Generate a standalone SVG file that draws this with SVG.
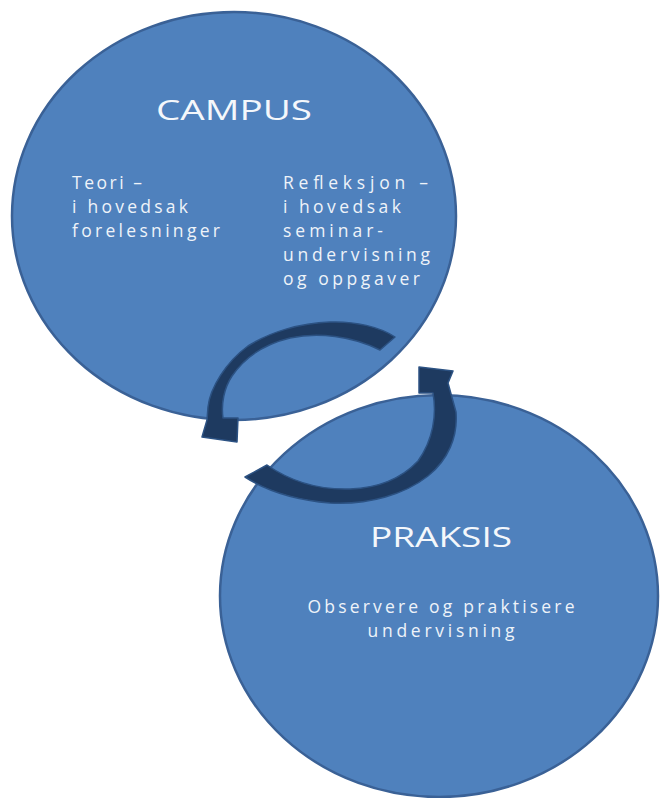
<svg xmlns="http://www.w3.org/2000/svg" width="660" height="798" viewBox="0 0 660 798">
<defs>
<style>
.node{fill:#4f81bd;stroke:#3a6196;stroke-width:2.5}
.arrow{fill:#1e3a60;stroke:#2c5283;stroke-width:1.5;stroke-linejoin:round}
.title{font-family:"Open Sans","Liberation Sans",sans-serif;font-size:27px;fill:#f4f7fb;text-anchor:middle}
.body{font-family:"Open Sans","Liberation Sans",sans-serif;font-size:17.5px;fill:#eef3f9}
.mid{text-anchor:middle}
</style>
</defs>
<rect width="660" height="798" fill="#ffffff"/>
<g id="campus">
<ellipse class="node" cx="234" cy="216" rx="222" ry="204"/>
<text class="title" x="234" y="120" textLength="156" lengthAdjust="spacingAndGlyphs">CAMPUS</text>
<text class="body" x="72" y="189" textLength="70" lengthAdjust="spacing">Teori –</text>
<text class="body" x="72" y="213" textLength="116" lengthAdjust="spacing">i hovedsak</text>
<text class="body" x="72" y="237" textLength="148" lengthAdjust="spacing">forelesninger</text>
<text class="body" x="283" y="189" textLength="145" lengthAdjust="spacing">Refleksjon –</text>
<text class="body" x="283" y="213" textLength="118" lengthAdjust="spacing">i hovedsak</text>
<text class="body" x="283" y="237" textLength="100" lengthAdjust="spacing">seminar-</text>
<text class="body" x="283" y="261" textLength="147" lengthAdjust="spacing">undervisning</text>
<text class="body" x="283" y="285" textLength="137" lengthAdjust="spacing">og oppgaver</text>
</g>
<g id="praksis">
<ellipse class="node" cx="439" cy="596" rx="219" ry="201"/>
<text class="title" x="441" y="547" textLength="142" lengthAdjust="spacingAndGlyphs">PRAKSIS</text>
<text class="body mid" x="441" y="613" textLength="267" lengthAdjust="spacing">Observere og praktisere</text>
<text class="body mid" x="441" y="637" textLength="147" lengthAdjust="spacing">undervisning</text>
</g>
<g id="connectors">
<path class="arrow" d="M395,337 C380,327 355,321 330,322 C300,323 270,332 248,346 C226,362 210,388 208,407 L207,420 L202,437 L237,442 L238,418 L223,418 C221,404 224,388 232,376 C245,357 265,344 290,338 C318,332 352,336 380,350 Z"/>
<path class="arrow" d="M245,477 C265,490 295,500 330,503 C370,505 405,494 428,476 C448,460 458,437 456,412 L448,383 L453,371 L419,367 L419,393 L433,393 C437,415 433,440 418,461 C402,478 378,488 350,489 C318,490 290,481 267,465 Z"/>
</g>
</svg>
